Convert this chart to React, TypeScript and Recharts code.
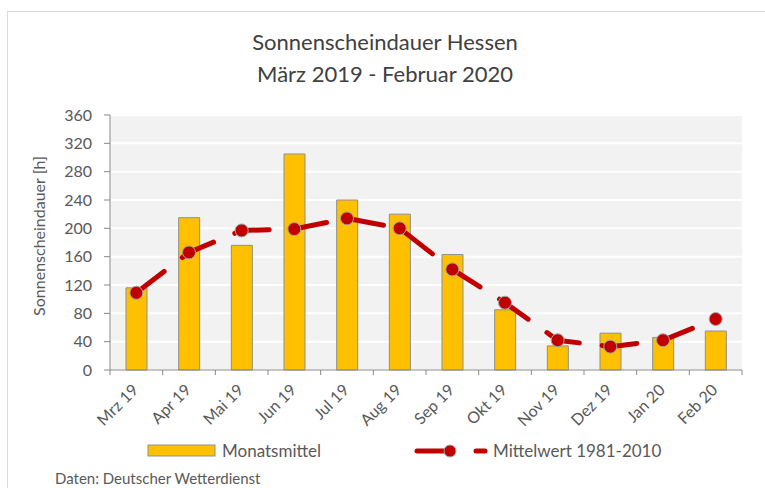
import React from 'react';
import { ComposedChart, Bar, Line, XAxis, YAxis, CartesianGrid } from 'recharts';

// Monatswerte Sonnenscheindauer Hessen (h)
const months = ['Mrz 19', 'Apr 19', 'Mai 19', 'Jun 19', 'Jul 19', 'Aug 19', 'Sep 19', 'Okt 19', 'Nov 19', 'Dez 19', 'Jan 20', 'Feb 20'];
const monatsmittel = [116, 215, 176, 305, 240, 220, 163, 85, 34, 52, 46, 55];
const mittelwert = [109, 166, 197, 199, 214, 200, 142, 95, 42, 33, 42, 72];
const yTicks = [0, 40, 80, 120, 160, 200, 240, 280, 320, 360];

const W = 765;
const H = 488;
const PLOT_LEFT = 110;
const PLOT_RIGHT = 742;
const PLOT_TOP = 115;
const PLOT_BOTTOM = 370;
const BAND = (PLOT_RIGHT - PLOT_LEFT) / months.length;

const FONT = 'Lato, "Open Sans", sans-serif';
const AXIS = '#898989';
const TEXT = '#595959';
const RED = '#c00000';
const GOLD = '#ffc000';

const data = months.map((m, i) => ({ month: m, monat: monatsmittel[i], mittel: mittelwert[i] }));

// category labels rotated 45 deg, tick marks drawn at the category borders
const XTick = (props: any) => {
  const { x, payload, index } = props;
  const left = x - BAND / 2;
  return (
    <g>
      <line x1={left} x2={left} y1={PLOT_BOTTOM} y2={PLOT_BOTTOM + 5} stroke={AXIS} />
      {index === months.length - 1 && (
        <line x1={x + BAND / 2} x2={x + BAND / 2} y1={PLOT_BOTTOM} y2={PLOT_BOTTOM + 5} stroke={AXIS} />
      )}
      <text
        x={x + 3}
        y={PLOT_BOTTOM + 21}
        textAnchor="end"
        transform={`rotate(-45 ${x + 3} ${PLOT_BOTTOM + 21})`}
        fill={TEXT}
        fontSize={16}
        fontFamily={FONT}
      >
        {payload.value}
      </text>
    </g>
  );
};

const Dot = (props: any) => {
  const { cx, cy } = props;
  if (cx == null || cy == null) return null;
  return <circle cx={cx} cy={cy} r={6.5} fill={RED} stroke="#a5a5a5" strokeWidth={1} />;
};

export default function App() {
  return (
    <div style={{ position: 'fixed', left: 0, top: 0, width: W, height: H, overflow: 'hidden', background: '#fff' }}>
      <div style={{ position: 'absolute', left: 7, top: 11, width: 900, height: 700, border: '1px solid #d9d9d9' }} />
      <ComposedChart
        width={W}
        height={H}
        data={data}
        margin={{ top: PLOT_TOP, right: W - PLOT_RIGHT, bottom: 58, left: 50 }}
        barCategoryGap={0}
        style={{ position: 'absolute', left: 0, top: 0 }}
      >
        <CartesianGrid vertical={false} stroke="#ffffff" strokeWidth={2} fill="#f2f2f2" />
        <XAxis
          dataKey="month"
          height={60}
          stroke={AXIS}
          tickLine={false}
          interval={0}
          tick={<XTick />}
        />
        <YAxis
          width={60}
          domain={[0, 360]}
          ticks={yTicks}
          stroke={AXIS}
          tickSize={6}
          tickMargin={12}
          tick={{ fill: TEXT, fontSize: 16, fontFamily: FONT }}
        />
        <Bar dataKey="monat" fill={GOLD} stroke="#8f8f8f" strokeWidth={1} barSize={21} isAnimationActive={false} />
        <Line
          dataKey="mittel"
          type="linear"
          stroke={RED}
          strokeWidth={5}
          strokeDasharray="35 23"
          strokeLinecap="round"
          dot={<Dot />}
          activeDot={false}
          isAnimationActive={false}
        />
      </ComposedChart>
      <svg width={W} height={H} style={{ position: 'absolute', left: 0, top: 0, pointerEvents: 'none' }} fontFamily={FONT}>
        <text x={385} y={50} textAnchor="middle" fontSize={22} fill="#404040">Sonnenscheindauer Hessen</text>
        <text x={385} y={82} textAnchor="middle" fontSize={22} fill="#404040">März 2019 - Februar 2020</text>
        <text x={45} y={236} textAnchor="middle" fontSize={16} fill={TEXT} transform="rotate(-90 45 236)">
          Sonnenscheindauer [h]
        </text>
        {/* legend */}
        <rect x={148} y={445} width={67} height={11} fill={GOLD} stroke="#8f8f8f" strokeWidth={1} />
        <text x={222} y={457} fontSize={17} fill={TEXT}>Monatsmittel</text>
        <line x1={417} y1={451} x2={450} y2={451} stroke={RED} strokeWidth={5} strokeLinecap="round" />
        <circle cx={450} cy={451} r={6} fill={RED} stroke="#a5a5a5" strokeWidth={1} />
        <line x1={476} y1={451} x2={485} y2={451} stroke={RED} strokeWidth={5} strokeLinecap="round" />
        <text x={493} y={457} fontSize={17} fill={TEXT}>Mittelwert 1981-2010</text>
        <text x={55} y={484} fontSize={15} fill={TEXT}>Daten: Deutscher Wetterdienst</text>
      </svg>
    </div>
  );
}
